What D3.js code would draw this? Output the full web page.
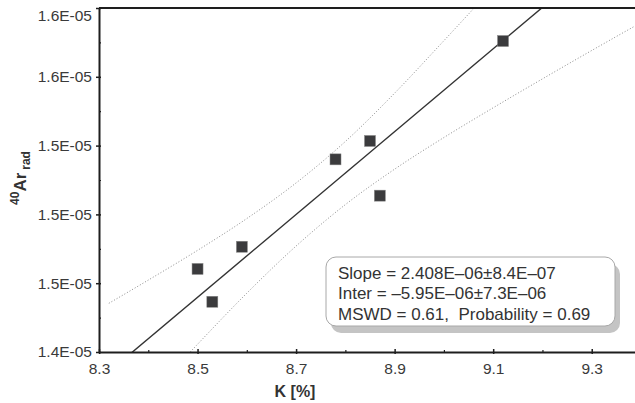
<!DOCTYPE html>
<html>
<head>
<meta charset="utf-8">
<script src="https://cdn.jsdelivr.net/npm/d3@7"></script>
<style>
  body { margin: 0; background: #fff; }
  svg { display: block; font-family: "Liberation Sans", Arial, sans-serif; }
</style>
</head>
<body>
<svg width="635" height="403"></svg>
<script>
// measured samples (K %, 40Ar rad)
const kValues = [8.50, 8.53, 8.59, 8.78, 8.85, 8.87, 9.12];
const arValues = [1.4683e-5, 1.4492e-5, 1.4812e-5, 1.5320e-5, 1.5427e-5, 1.5109e-5, 1.6008e-5];

// fit results
const slope = 2.408e-6;
const intercept = -5.95e-6;
const fitText = [
  "Slope = 2.408E\u201306\u00b18.4E\u201307",
  "Inter = \u20135.95E\u201306\u00b17.3E\u201306",
  "MSWD = 0.61,  Probability = 0.69"
];

// dotted envelope
const bandK = [8.32, 8.40, 8.50, 8.60, 8.70, 8.80, 8.90, 9.00, 9.10, 9.20, 9.30, 9.40];
const bandUpper = [1.4483e-5, 1.4618e-5, 1.4791e-5, 1.4976e-5, 1.5183e-5, 1.5424e-5, 1.5705e-5, 1.6010e-5, 1.6320e-5, 1.6630e-5, 1.6950e-5, 1.7270e-5];
const bandLower = [1.3686e-5, 1.3937e-5, 1.4245e-5, 1.4542e-5, 1.4816e-5, 1.5057e-5, 1.5263e-5, 1.5447e-5, 1.5620e-5, 1.5788e-5, 1.5953e-5, 1.6115e-5];

// axes
const xTicks = [8.3, 8.5, 8.7, 8.9, 9.1, 9.3];
const xMinor = [8.4, 8.6, 8.8, 9.0, 9.2, 9.4];
const yTicks = [1.42e-5, 1.46e-5, 1.50e-5, 1.54e-5, 1.58e-5, 1.62e-5];
const yMinor = [1.44e-5, 1.48e-5, 1.52e-5, 1.56e-5, 1.60e-5];
const yTickLabels = ["1.4E-05", "1.5E-05", "1.5E-05", "1.5E-05", "1.6E-05", "1.6E-05"];

const svg = d3.select("svg");
const plotL = 99, plotT = 8, plotB = 352, plotR = 641;

const x = d3.scaleLinear().domain([8.3, 9.4]).range([plotL, plotR]);
const y = d3.scaleLinear().domain([1.42e-5, 1.62e-5]).range([plotB, plotT]);

svg.append("clipPath").attr("id", "plot")
  .append("rect").attr("x", plotL).attr("y", plotT)
  .attr("width", plotR - plotL).attr("height", plotB - plotT);

const plot = svg.append("g").attr("clip-path", "url(#plot)");

// confidence envelope
const band = d3.line().x((d) => x(d[0])).y((d) => y(d[1])).curve(d3.curveMonotoneX);
[bandUpper, bandLower].forEach((vals) => {
  plot.append("path")
    .attr("d", band(bandK.map((k, i) => [k, vals[i]])))
    .attr("fill", "none")
    .attr("stroke", "#8a8a8a")
    .attr("stroke-width", 1)
    .attr("stroke-dasharray", "1,2");
});

// regression line
plot.append("line")
  .attr("x1", x(8.3)).attr("y1", y(slope * 8.3 + intercept))
  .attr("x2", x(9.4)).attr("y2", y(slope * 9.4 + intercept))
  .attr("stroke", "#333")
  .attr("stroke-width", 1.4);

// points
const sq = 11;
plot.selectAll(".pt")
  .data(kValues)
  .enter()
  .append("rect")
  .attr("class", "pt")
  .attr("x", (d) => x(d) - sq / 2)
  .attr("y", (d, i) => y(arValues[i]) - sq / 2)
  .attr("width", sq)
  .attr("height", sq)
  .attr("fill", "#3b3b3d")
  .attr("stroke", "#888")
  .attr("stroke-width", 0.5);

// frame top
svg.append("line")
  .attr("x1", plotL).attr("x2", 635).attr("y1", plotT).attr("y2", plotT)
  .attr("stroke", "#1e1e1e").attr("stroke-width", 2);

// x axis
const xAxis = svg.append("g")
  .attr("transform", `translate(0,${plotB})`)
  .call(d3.axisBottom(x).tickValues(xTicks).tickSizeInner(2).tickSizeOuter(0).tickFormat(d3.format(".1f")));
xAxis.select(".domain").attr("stroke", "#1e1e1e").attr("stroke-width", 2);
xAxis.selectAll(".tick line").attr("y1", -3).attr("stroke", "#1e1e1e").attr("stroke-width", 1.5);
xAxis.selectAll(".tick text")
  .attr("y", 11)
  .attr("fill", "#3a3a3a")
  .style("font-size", "15.5px");
svg.append("g")
  .attr("transform", `translate(0,${plotB})`)
  .call(d3.axisBottom(x).tickValues(xMinor).tickSize(-2).tickFormat(""))
  .call((g) => g.select(".domain").remove())
  .selectAll("line").attr("stroke", "#1e1e1e").attr("stroke-width", 1.2);

// y axis
const yAxis = svg.append("g")
  .attr("transform", `translate(${plotL},0)`)
  .call(d3.axisLeft(y).tickValues(yTicks).tickSizeInner(3).tickSizeOuter(0).tickFormat((d, i) => yTickLabels[i]));
yAxis.select(".domain").attr("stroke", "#1e1e1e").attr("stroke-width", 2);
yAxis.selectAll(".tick line").attr("x1", 2).attr("stroke", "#1e1e1e").attr("stroke-width", 1.5);
yAxis.selectAll(".tick text")
  .attr("x", -7)
  .attr("fill", "#3a3a3a")
  .style("font-size", "15.5px")
  .attr("dy", (d, i) => (i === yTicks.length - 1 ? "0.78em" : "0.32em"));
svg.append("g")
  .attr("transform", `translate(${plotL},0)`)
  .call(d3.axisLeft(y).tickValues(yMinor).tickSize(-2).tickFormat(""))
  .call((g) => g.select(".domain").remove())
  .selectAll("line").attr("stroke", "#1e1e1e").attr("stroke-width", 1.2);

// axis titles
svg.append("text")
  .attr("x", 295).attr("y", 397)
  .attr("text-anchor", "middle")
  .attr("fill", "#333")
  .style("font-size", "16px")
  .style("font-weight", "bold")
  .text("K [%]");

const yTitle = svg.append("text")
  .attr("transform", "translate(25.5,178) rotate(-90)")
  .attr("text-anchor", "middle")
  .attr("fill", "#333")
  .style("font-weight", "bold");
yTitle.append("tspan").attr("dy", -7).style("font-size", "12px").text("40");
yTitle.append("tspan").attr("dy", 7).style("font-size", "17px").text("Ar");
yTitle.append("tspan").attr("dy", 4).attr("dx", 3).style("font-size", "12px").text("rad");

// fit result box
const bx = 326, by = 257, bw = 289, bh = 69;
svg.append("rect")
  .attr("x", bx + 5).attr("y", by + 7).attr("width", bw).attr("height", bh)
  .attr("rx", 10).attr("fill", "#c4c4c4");
svg.append("rect")
  .attr("x", bx).attr("y", by).attr("width", bw).attr("height", bh)
  .attr("rx", 10).attr("fill", "#fff").attr("stroke", "#a8a8a8").attr("stroke-width", 1);
svg.selectAll(".fit")
  .data(fitText)
  .enter()
  .append("text")
  .attr("class", "fit")
  .attr("x", 338)
  .attr("y", (d, i) => 278.5 + i * 20.7)
  .attr("fill", "#333")
  .style("font-size", "17px")
  .style("white-space", "pre")
  .text((d) => d);
</script>
</body>
</html>
